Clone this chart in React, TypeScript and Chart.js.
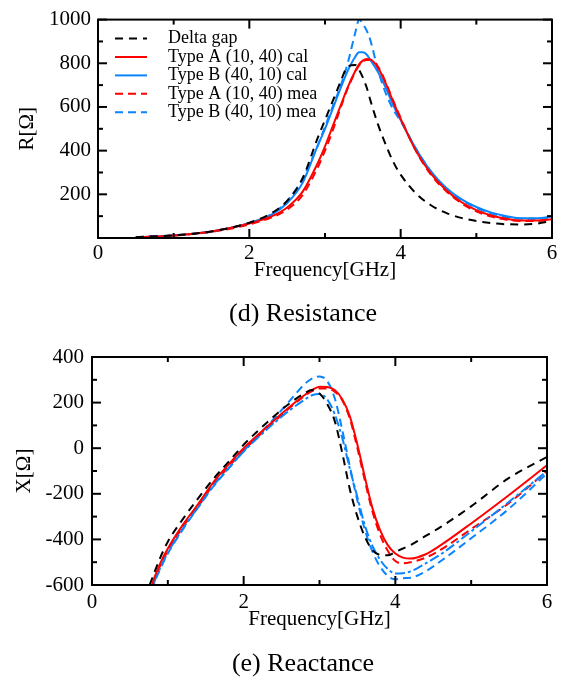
import React, { useEffect, useRef } from 'react';
import { Chart, registerables } from 'chart.js';

Chart.register(...registerables);

const FONT = "'Liberation Serif', 'Times New Roman', serif";

// ---------- (d) Resistance ----------
const rFreq = [0.5, 1.0, 1.5, 2.0, 2.3, 2.5, 2.7, 2.9, 3.0, 3.1, 3.2, 3.3, 3.4, 3.45, 3.5, 3.55, 3.6, 3.7, 3.8, 3.9, 4.0, 4.2, 4.4, 4.6, 4.8, 5.0, 5.2, 5.4, 5.6, 5.8, 6.0];
const rDeltaGap = [4, 12, 30, 70, 115, 170, 270, 455, 540, 625, 710, 785, 792, 770, 735, 690, 630, 520, 430, 350, 290, 205, 150, 115, 92, 78, 68, 63, 62, 66, 78];
const rTypeACal = [4, 12, 30, 66, 100, 140, 210, 340, 420, 510, 600, 690, 765, 795, 812, 820, 818, 780, 710, 625, 545, 400, 295, 220, 165, 128, 103, 88, 80, 80, 86];
const rTypeBCal = [4, 12, 30, 68, 108, 160, 250, 420, 500, 590, 680, 765, 830, 850, 850, 840, 815, 760, 690, 610, 540, 410, 305, 230, 178, 142, 116, 100, 90, 90, 98];
const rTypeAMea = [3, 11, 28, 62, 95, 130, 195, 320, 400, 490, 590, 685, 760, 790, 808, 815, 815, 785, 715, 630, 550, 400, 290, 215, 160, 122, 98, 84, 78, 78, 84];
const rTypeBMea = [4, 12, 30, 68, 110, 170, 270, 420, 510, 600, 690, 800, 940, 1000, 980, 950, 905, 770, 665, 590, 535, 410, 305, 228, 175, 138, 112, 96, 88, 88, 96];
const rYTicks = [200, 400, 600, 800, 1000];

// ---------- (e) Reactance ----------
const xFreq = [0.76, 0.8, 0.9, 1.0, 1.2, 1.4, 1.6, 1.8, 2.0, 2.2, 2.4, 2.6, 2.8, 2.9, 3.0, 3.1, 3.2, 3.3, 3.4, 3.5, 3.6, 3.7, 3.8, 3.9, 4.0, 4.1, 4.2, 4.4, 4.6, 5.0, 5.5, 6.0];
const xDeltaGap = [-600, -565, -480, -410, -310, -220, -135, -60, 15, 80, 140, 195, 240, 255, 240, 195, 120, -20, -180, -300, -390, -448, -468, -470, -455, -440, -425, -385, -345, -255, -130, -38];
const xTypeACal = [-640, -590, -505, -440, -335, -245, -150, -72, 0, 62, 122, 180, 232, 255, 270, 268, 255, 215, 140, 15, -130, -265, -360, -425, -462, -480, -484, -465, -425, -330, -205, -75];
const xTypeBCal = [-670, -610, -525, -458, -352, -258, -165, -88, -15, 50, 110, 165, 212, 232, 238, 215, 150, 45, -90, -215, -340, -430, -490, -530, -550, -548, -540, -505, -465, -365, -235, -100];
const xTypeAMea = [-650, -600, -515, -450, -345, -255, -160, -82, -10, 55, 115, 175, 228, 250, 262, 262, 248, 210, 130, 0, -145, -280, -380, -450, -495, -505, -500, -480, -445, -355, -240, -100];
const xTypeBMea = [-680, -615, -530, -462, -355, -260, -168, -90, -12, 58, 130, 205, 280, 305, 315, 295, 220, 80, -80, -230, -360, -455, -520, -560, -575, -570, -568, -540, -495, -395, -265, -110];
const xYTicks = [-600, -400, -200, 0, 200, 400];

const freqTicks = [0, 2, 4, 6];
const seriesLabels = ['Delta gap', 'Type A (10, 40) cal', 'Type B (40, 10) cal', 'Type A (10, 40) mea', 'Type B (40, 10) mea'];

const RED = '#ff0000';
const BLUE = '#0a84ff';

const pts = (f: number[], v: number[]) => f.map((x, i) => ({ x, y: v[i] }));

const framePlugin = {
  id: 'frameTicks',
  afterDatasetsDraw(chart: any) {
    const { ctx, chartArea: a } = chart;
    const xs = chart.scales.x;
    const ys = chart.scales.y;
    ctx.save();
    ctx.strokeStyle = '#000';
    ctx.lineWidth = 2;
    ctx.setLineDash([]);
    ctx.strokeRect(a.left, a.top, a.right - a.left, a.bottom - a.top);
    const line = (x1: number, y1: number, x2: number, y2: number) => {
      ctx.beginPath();
      ctx.moveTo(x1, y1);
      ctx.lineTo(x2, y2);
      ctx.stroke();
    };
    const each = (scale: any, cb: (v: number, major: boolean) => void) => {
      const t = scale.ticks.map((k: any) => k.value);
      const majorStep = t[1] - t[0];
      const step = majorStep / 2;
      for (let v = scale.min; v <= scale.max + 1e-9; v += step) {
        const r = (v - t[0]) / majorStep;
        cb(v, Math.abs(r - Math.round(r)) < 1e-6);
      }
    };
    each(xs, (v, major) => {
      const p = xs.getPixelForValue(v);
      const len = major ? 9 : 5;
      line(p, a.bottom, p, a.bottom - len);
      line(p, a.top, p, a.top + len);
    });
    each(ys, (v, major) => {
      const p = ys.getPixelForValue(v);
      const len = major ? 9 : 5;
      line(a.left, p, a.left + len, p);
      line(a.right, p, a.right - len, p);
    });
    ctx.restore();
  },
};

const insideLegendPlugin = {
  id: 'insideLegend',
  afterDatasetsDraw(chart: any, _args: any, opts: any) {
    if (!opts || !opts.show) return;
    const { ctx, chartArea: a } = chart;
    chart.data.datasets.forEach((ds: any, i: number) => {
      const y = a.top + opts.top + i * opts.spacing;
      ctx.save();
      ctx.strokeStyle = ds.borderColor;
      ctx.lineWidth = ds.borderWidth;
      ctx.setLineDash(ds.borderDash || []);
      ctx.beginPath();
      ctx.moveTo(a.left + opts.lineStart, y);
      ctx.lineTo(a.left + opts.lineEnd, y);
      ctx.stroke();
      ctx.setLineDash([]);
      ctx.fillStyle = '#000';
      ctx.font = `${opts.fontSize}px ${FONT}`;
      ctx.textBaseline = 'middle';
      ctx.textAlign = 'left';
      ctx.fillText(ds.label, a.left + opts.textX, y);
      ctx.restore();
    });
  },
};

function makeDatasets(freq: number[], series: number[][], blueCalDash: number[]) {
  const styles = [
    { color: '#000', dash: [8, 6] },
    { color: RED, dash: [] as number[] },
    { color: BLUE, dash: blueCalDash },
    { color: RED, dash: [8, 5] },
    { color: BLUE, dash: [8, 5] },
  ];
  return series.map((s, i) => ({
    label: seriesLabels[i],
    data: pts(freq, s),
    borderColor: styles[i].color,
    backgroundColor: styles[i].color,
    borderDash: styles[i].dash,
    borderWidth: 2,
    pointRadius: 0,
    fill: false,
    cubicInterpolationMode: 'monotone',
  }));
}

function makeConfig(p: {
  datasets: any[];
  yMin: number;
  yMax: number;
  yTicks: number[];
  yTitle: string;
  padTop: number;
  padRight: number;
  yWidth: number;
  xHeight: number;
  xTickPad: number;
  yTickPad: number;
  xTitlePadBottom: number;
  yTitlePad: number;
  hideZeroY: boolean;
  legend: boolean;
}) {
  const tickFont = { family: FONT, size: 21 };
  const titleFont = { family: FONT, size: 21 };
  return {
    type: 'line',
    data: { datasets: p.datasets },
    options: {
      animation: false,
      responsive: false,
      events: [],
      layout: { padding: { left: 0, right: p.padRight, top: p.padTop, bottom: 0 } },
      plugins: {
        legend: { display: false },
        tooltip: { enabled: false },
        insideLegend: { show: p.legend, top: 19, spacing: 18.4, lineStart: 17, lineEnd: 49, textX: 70, fontSize: 18 },
      },
      scales: {
        x: {
          type: 'linear',
          min: 0,
          max: 6,
          afterBuildTicks: (s: any) => {
            s.ticks = freqTicks.map((v) => ({ value: v }));
          },
          afterFit: (s: any) => {
            s.height = p.xHeight;
          },
          grid: { display: false, drawTicks: false },
          border: { display: false },
          ticks: { font: tickFont, color: '#000', padding: p.xTickPad, maxRotation: 0, autoSkip: false, callback: (v: any) => String(v) },
          title: { display: true, text: 'Frequency[GHz]', font: titleFont, color: '#000', padding: { top: 0, bottom: p.xTitlePadBottom } },
        },
        y: {
          type: 'linear',
          min: p.yMin,
          max: p.yMax,
          afterBuildTicks: (s: any) => {
            s.ticks = p.yTicks.map((v) => ({ value: v }));
          },
          afterFit: (s: any) => {
            s.width = p.yWidth;
          },
          grid: { display: false, drawTicks: false },
          border: { display: false },
          ticks: {
            font: tickFont,
            color: '#000',
            padding: p.yTickPad,
            autoSkip: false,
            callback: (v: any) => (p.hideZeroY && v === 0 ? '' : String(v)),
          },
          title: { display: true, text: p.yTitle, font: titleFont, color: '#000', padding: { top: p.yTitlePad, bottom: 0 } },
        },
      },
    },
    plugins: [framePlugin, insideLegendPlugin],
  };
}

function ChartBox({ config, width, height, top }: { config: () => any; width: number; height: number; top: number }) {
  const ref = useRef<HTMLCanvasElement | null>(null);
  useEffect(() => {
    const chart = new Chart(ref.current as HTMLCanvasElement, config());
    return () => chart.destroy();
  }, []);
  return (
    <div style={{ position: 'absolute', left: 0, top, width, height }}>
      <canvas ref={ref} width={width} height={height} style={{ display: 'block' }} />
    </div>
  );
}

const captionStyle = (top: number): React.CSSProperties => ({
  position: 'absolute',
  left: 153,
  width: 300,
  top,
  textAlign: 'center',
  fontFamily: FONT,
  fontSize: 26,
  lineHeight: '30px',
  color: '#000',
  whiteSpace: 'nowrap',
});

export default function App() {
  const topConfig = () =>
    makeConfig({
      datasets: makeDatasets(rFreq, [rDeltaGap, rTypeACal, rTypeBCal, rTypeAMea, rTypeBMea], []),
      yMin: 0,
      yMax: 1000,
      yTicks: rYTicks,
      yTitle: 'R[Ω]',
      padTop: 13,
      padRight: 11,
      yWidth: 98,
      xHeight: 92,
      xTickPad: 3,
      yTickPad: 7,
      xTitlePadBottom: 47,
      yTitlePad: 15,
      hideZeroY: true,
      legend: true,
    });
  const bottomConfig = () =>
    makeConfig({
      datasets: makeDatasets(xFreq, [xDeltaGap, xTypeACal, xTypeBCal, xTypeAMea, xTypeBMea], [10, 3, 3, 3]),
      yMin: -600,
      yMax: 400,
      yTicks: xYTicks,
      yTitle: 'X[Ω]',
      padTop: 27,
      padRight: 16,
      yWidth: 92,
      xHeight: 97,
      xTickPad: 5,
      yTickPad: 8,
      xTitlePadBottom: 50,
      yTitlePad: 12,
      hideZeroY: false,
      legend: false,
    });
  return (
    <div style={{ position: 'absolute', left: 0, top: 0, width: 563, height: 682, background: '#fff' }}>
      <ChartBox config={topConfig} width={563} height={330} top={0} />
      <div style={captionStyle(298)}>(d) Resistance</div>
      <ChartBox config={bottomConfig} width={563} height={352} top={330} />
      <div style={captionStyle(648)}>(e) Reactance</div>
    </div>
  );
}
